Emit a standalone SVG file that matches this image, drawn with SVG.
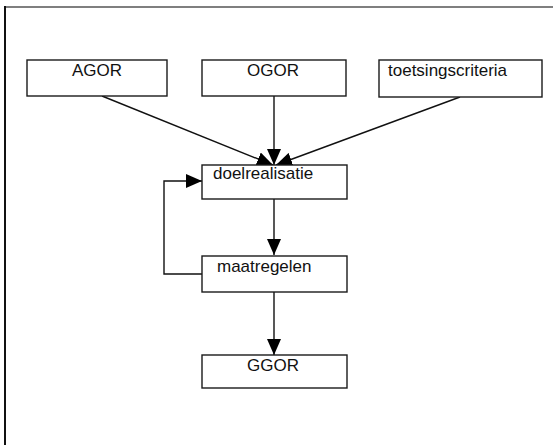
<svg xmlns="http://www.w3.org/2000/svg" width="557" height="445" viewBox="0 0 557 445">
<style>
.box{fill:#fff;stroke:#1a1a1a;stroke-width:1.4}
.t{font-family:"Liberation Sans",Arial,sans-serif;font-size:17px;fill:#111}
.c{fill:none;stroke:#111;stroke-width:1.4}
</style>
<defs>
<marker id="ah" markerUnits="userSpaceOnUse" markerWidth="16" markerHeight="14" refX="16" refY="7" orient="auto">
<path d="M0,0 L16,7 L0,14 Z" fill="#000"/>
</marker>
</defs>
<rect width="557" height="445" fill="#fff"/>
<g id="frame">
<line x1="4" y1="7" x2="553" y2="7" stroke="#555" stroke-width="1.5"/>
<line x1="5" y1="6" x2="5" y2="445" stroke="#111" stroke-width="2"/>
</g>
<g id="connectors">
<line class="c" x1="102" y1="96" x2="273" y2="165" marker-end="url(#ah)"/>
<line class="c" x1="274" y1="96" x2="274" y2="165" marker-end="url(#ah)"/>
<line class="c" x1="460" y1="97" x2="276" y2="165" marker-end="url(#ah)"/>
<line class="c" x1="274" y1="199" x2="274" y2="255" marker-end="url(#ah)"/>
<line class="c" x1="274" y1="292" x2="274" y2="355" marker-end="url(#ah)"/>
<polyline class="c" points="202,274 164,274 164,181 202,181" marker-end="url(#ah)"/>
</g>
<g id="agor"><rect class="box" x="27" y="60" width="140" height="36"/><text class="t" x="97" y="76" text-anchor="middle">AGOR</text></g>
<g id="ogor"><rect class="box" x="202" y="60" width="144" height="36"/><text class="t" x="273" y="76" text-anchor="middle">OGOR</text></g>
<g id="toetsingscriteria"><rect class="box" x="379" y="60" width="163" height="37"/><text class="t" x="388" y="76">toetsingscriteria</text></g>
<g id="doelrealisatie"><rect class="box" x="202" y="165" width="145" height="34"/><text class="t" x="213" y="179">doelrealisatie</text></g>
<g id="maatregelen"><rect class="box" x="202" y="256" width="145" height="36"/><text class="t" x="217" y="272">maatregelen</text></g>
<g id="ggor"><rect class="box" x="202" y="355" width="145" height="33"/><text class="t" x="273" y="371" text-anchor="middle">GGOR</text></g>
</svg>
